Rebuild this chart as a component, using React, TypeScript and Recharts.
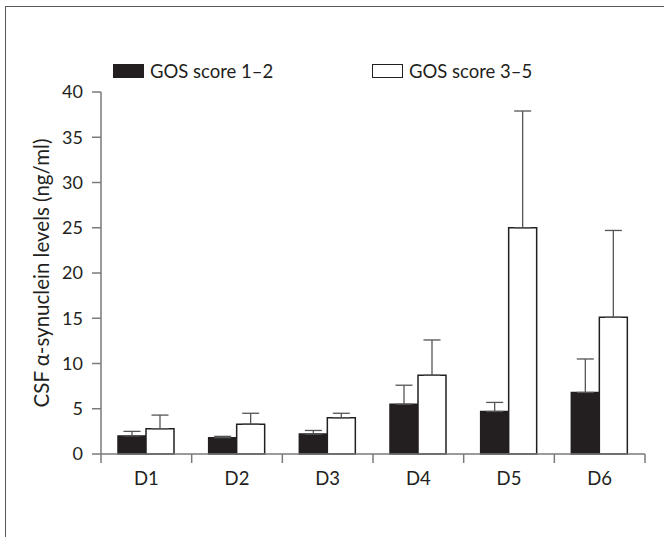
import { Bar, BarChart, ErrorBar, Legend, XAxis, YAxis } from "recharts"

const days = ["D1", "D2", "D3", "D4", "D5", "D6"]
const low = [2.0, 1.8, 2.2, 5.5, 4.7, 6.8]
const lowErr = [0.5, 0.15, 0.4, 2.1, 1.0, 3.7]
const high = [2.8, 3.3, 4.0, 8.7, 25.0, 15.1]
const highErr = [1.5, 1.2, 0.5, 3.9, 12.9, 9.6]
const yTicks = [0, 5, 10, 15, 20, 25, 30, 35, 40]
const seriesNames = ["GOS score 1\u20132", "GOS score 3\u20135"]

const data = days.map((day, i) => ({
  day,
  low: low[i],
  lowErr: [0, lowErr[i]],
  high: high[i],
  highErr: [0, highErr[i]],
}))

const font = "Lato, 'Open Sans', sans-serif"
const ink = "#231f20"
const axisGrey = "#7a7a7a"

function DayTick(props: any) {
  const { x, y, payload, index, visibleTicksCount } = props
  const half = payload.offset || 0
  const top = y - 9
  return (
    <g>
      <line x1={x - half} y1={top} x2={x - half} y2={y} stroke={axisGrey} strokeWidth={1.5} />
      {index === visibleTicksCount - 1 && (
        <line x1={x + half} y1={top} x2={x + half} y2={y} stroke={axisGrey} strokeWidth={1.5} />
      )}
      <text x={x} y={y + 22} textAnchor="middle" fontSize={18.5} fontFamily={font} fill={ink}>
        {payload.value}
      </text>
    </g>
  )
}

function GosLegend() {
  return (
    <div style={{ display: "flex", fontFamily: font, fontSize: 18.5, color: ink, lineHeight: "20px" }}>
      {seriesNames.map((name, i) => (
        <div key={name} style={{ display: "flex", alignItems: "center", width: 259 }}>
          <span
            style={{
              display: "inline-block",
              boxSizing: "border-box",
              width: 31,
              height: 14,
              marginRight: 6,
              background: i === 0 ? ink : "#fff",
              border: `1.5px solid ${ink}`,
            }}
          />
          {name}
        </div>
      ))}
    </div>
  )
}

export default function App() {
  return (
    <div
      style={{
        position: "absolute",
        left: 0,
        top: 0,
        width: 664,
        height: 537,
        background: "#fff",
      }}
    >
      <div
        style={{
          position: "absolute",
          left: 5,
          top: 6,
          right: 0,
          bottom: 0,
          borderTop: "1.5px solid #5a5a5a",
          borderLeft: "1.5px solid #5a5a5a",
        }}
      />
      <BarChart
        width={664}
        height={537}
        data={data}
        margin={{ top: 92, right: 19, left: 0, bottom: 53 }}
        barSize={28}
        barGap={0}
      >
        <Legend
          layout="horizontal"
          verticalAlign="middle"
          wrapperStyle={{ top: 61, left: 113, width: 540 }}
          content={() => <GosLegend />}
        />
        <XAxis
          dataKey="day"
          height={30}
          stroke={axisGrey}
          axisLine={{ stroke: axisGrey, strokeWidth: 1.5 }}
          tickLine={false}
          tickSize={9}
          tickMargin={0}
          tick={<DayTick />}
        />
        <YAxis
          width={101}
          domain={[0, 40]}
          ticks={yTicks}
          interval={0}
          axisLine={{ stroke: axisGrey, strokeWidth: 1.5 }}
          tickLine={{ stroke: axisGrey, strokeWidth: 1.5 }}
          tickSize={9}
          tickMargin={9}
          tick={{ fill: ink, fontSize: 18, fontFamily: font }}
          label={{
            value: "CSF \u03b1-synuclein levels (ng/ml)",
            angle: -90,
            position: "insideLeft",
            offset: 42,
            style: { textAnchor: "middle", fill: ink, fontSize: 20.5, fontFamily: font },
          }}
        />
        <Bar dataKey="low" fill={ink} stroke={ink} strokeWidth={1.5} isAnimationActive={false}>
          <ErrorBar dataKey="lowErr" width={8.5} stroke="#555" strokeWidth={1.3} direction="y" />
        </Bar>
        <Bar dataKey="high" fill="#fff" stroke={ink} strokeWidth={1.5} isAnimationActive={false}>
          <ErrorBar dataKey="highErr" width={8.5} stroke="#555" strokeWidth={1.3} direction="y" />
        </Bar>
      </BarChart>
    </div>
  )
}
